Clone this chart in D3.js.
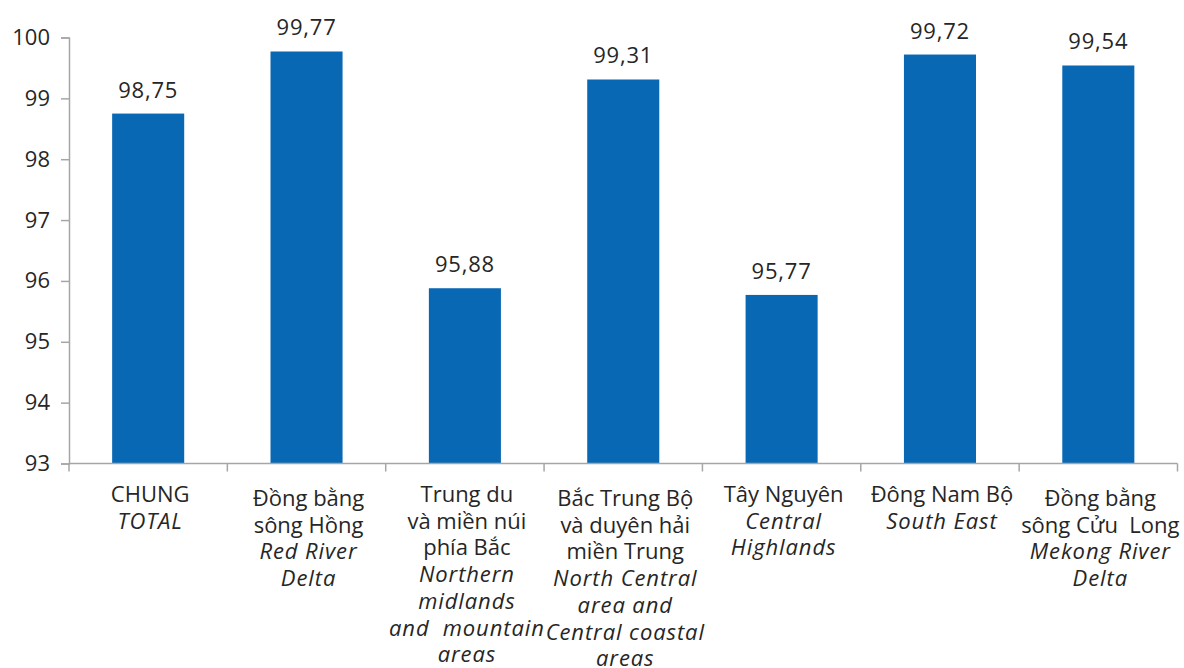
<!DOCTYPE html>
<html>
<head>
<meta charset="utf-8">
<script src="https://cdn.jsdelivr.net/npm/d3@7"></script>
<style>
  html, body { margin: 0; padding: 0; background: #fff; }
  svg text { font-family: "Open Sans", "Noto Sans", sans-serif; fill: #262626; }
</style>
</head>
<body>
<svg id="chart" width="1184" height="668"></svg>
<script>
// Regions (Vietnamese lines, then English lines in italics)
const categories = ["CHUNG", "DBSH", "TDMNPB", "BTB", "TN", "DNB", "DBSCL"];
const labelsVi = [
  ["CHUNG"],
  ["Đồng bằng", "sông Hồng"],
  ["Trung du", "và miền núi", "phía Bắc"],
  ["Bắc Trung Bộ", "và duyên hải", "miền Trung"],
  ["Tây Nguyên"],
  ["Đông Nam Bộ"],
  ["Đồng bằng", "sông Cửu  Long"]
];
const labelsEn = [
  ["TOTAL"],
  ["Red River", "Delta"],
  ["Northern", "midlands", "and  mountain", "areas"],
  ["North Central", "area and", "Central coastal", "areas"],
  ["Central", "Highlands"],
  ["South East"],
  ["Mekong River", "Delta"]
];
const values = [98.75, 99.77, 95.88, 99.31, 95.77, 99.72, 99.54];
const yTicks = [93, 94, 95, 96, 97, 98, 99, 100];

const svg = d3.select("#chart");
const plot = { left: 69, right: 1177.5, top: 37.5, bottom: 463.5 };

const x = d3.scaleBand()
  .domain(categories)
  .range([plot.left, plot.right])
  .paddingInner(0.545)
  .paddingOuter(0.2725);

const xAxisBand = d3.scaleBand().domain(categories).range([plot.left, plot.right]);

const y = d3.scaleLinear().domain([93, 100]).range([plot.bottom, plot.top]);

const fmt = v => v.toFixed(2).replace(".", ",");

// Bars
svg.append("g")
  .selectAll("rect")
  .data(values)
  .join("rect")
  .attr("x", (d, i) => x(categories[i]))
  .attr("y", d => y(d))
  .attr("width", x.bandwidth())
  .attr("height", d => y(93) - y(d))
  .attr("fill", "#0868b4");

// Value labels
svg.append("g")
  .selectAll("text")
  .data(values)
  .join("text")
  .attr("x", (d, i) => x(categories[i]) + x.bandwidth() / 2)
  .attr("y", d => y(d) - 16)
  .attr("text-anchor", "middle")
  .style("font-size", "22px")
  .style("letter-spacing", "0.8px")
  .text(d => fmt(d));

// Y axis
const yAxis = svg.append("g")
  .attr("transform", `translate(${plot.left},0)`)
  .call(d3.axisLeft(y).tickValues(yTicks).tickSize(8).tickPadding(11).tickFormat(d3.format("d")));
yAxis.select(".domain").attr("stroke", "#a6a6a6").attr("stroke-width", 1.5);
yAxis.selectAll(".tick line").attr("stroke", "#a6a6a6").attr("stroke-width", 1.5);
yAxis.selectAll(".tick text")
  .style("font-size", "22px")
  .style("font-family", "\"Open Sans\", sans-serif")
  .attr("fill", "#262626");

// X axis line with ticks at category boundaries
const xg = svg.append("g");
xg.append("line")
  .attr("x1", plot.left).attr("x2", plot.right)
  .attr("y1", plot.bottom).attr("y2", plot.bottom)
  .attr("stroke", "#a6a6a6").attr("stroke-width", 1.5);
const bounds = categories.map(c => xAxisBand(c)).concat([plot.right]);
xg.selectAll("line.tk")
  .data(bounds)
  .join("line")
  .attr("class", "tk")
  .attr("x1", d => d).attr("x2", d => d)
  .attr("y1", plot.bottom).attr("y2", plot.bottom + 8)
  .attr("stroke", "#a6a6a6").attr("stroke-width", 1.5);

// Category labels
const lineH = 26.7;
const tall = /[ồằắềểổ]/;
categories.forEach((c, i) => {
  const cx = xAxisBand(c) + xAxisBand.bandwidth() / 2 + 2;
  const shift = tall.test(labelsVi[i][0]) ? 4 : 0;
  const t = svg.append("text")
    .attr("x", cx)
    .attr("y", 502 + shift)
    .attr("text-anchor", "middle")
    .attr("xml:space", "preserve")
    .style("font-size", "22px")
    .style("white-space", "pre");
  const lines = labelsVi[i].map(s => ({ s, it: false }))
    .concat(labelsEn[i].map(s => ({ s, it: true })));
  lines.forEach((l, k) => {
    t.append("tspan")
      .attr("x", cx)
      .attr("dy", k === 0 ? 0 : lineH)
      .style("font-style", l.it ? "italic" : "normal")
      .style("letter-spacing", l.it ? "0.9px" : "0px")
      .text(l.s);
  });
});
</script>
</body>
</html>
